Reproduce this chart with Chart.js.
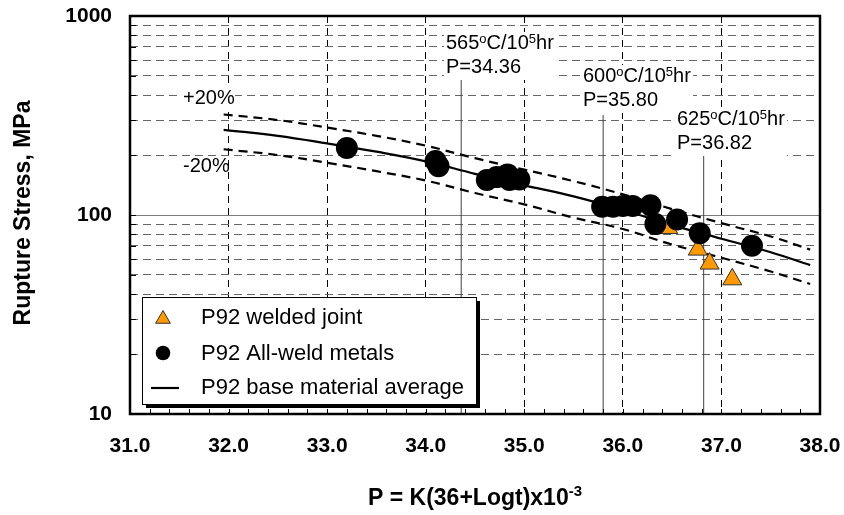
<!DOCTYPE html>
<html>
<head>
<meta charset="utf-8">
<script src="https://cdn.jsdelivr.net/npm/chart.js@4.4.0/dist/chart.umd.min.js"></script>
<style>
  html, body { margin: 0; padding: 0; background: #fff; }
  #wrap { width: 844px; height: 515px; position: relative; }
</style>
</head>
<body>
<div id="wrap"><canvas id="ruptureChart"></canvas></div>
<script>
// Larson-Miller parameter (x) and rupture stress in MPa (y)
const curveP = [31.95, 32.5, 33.0, 33.5, 34.0, 34.5, 35.0, 35.5, 36.0, 36.5, 37.0, 37.5, 37.9];
const avgStress = [268, 250, 229, 208, 186, 161, 141, 124, 106, 89, 76, 65, 56];
const upperStress = [320, 300, 275, 250, 223, 193, 169, 148, 127, 107, 91, 78, 67];
const lowerStress = [214, 200, 183, 166, 149, 129, 113, 97, 85, 71, 61, 52, 45];

const allWeldP = [33.20, 34.10, 34.13, 34.62, 34.72, 34.83, 34.85, 34.95, 35.79, 35.90, 36.00, 36.10, 36.28, 36.33, 36.55, 36.78, 37.31];
const allWeldStress = [217, 187, 176, 150, 155, 160, 150, 151, 110, 110, 111, 111, 112, 90, 95, 81, 70];

const weldedP = [36.46, 36.76, 36.88, 37.11];
const weldedStress = [86, 67, 57, 47.5];

// 10^5 hr lines at 565, 600, 625 C
const refP = [34.36, 35.80, 36.82];
const refTop = [477, 318, 198];
const refTemp = ['565', '600', '625'];

const xTicks = [31, 32, 33, 34, 35, 36, 37, 38];
const yGrid = [10, 20, 30, 40, 50, 60, 70, 80, 90, 100, 200, 300, 400, 500, 600, 700, 800, 900, 1000];
const yLabels = [10, 100, 1000];

const toPts = (xs, ys) => xs.map((x, i) => ({ x: x, y: ys[i] }));

const datasets = [
  {
    label: 'P92 All-weld metals',
    data: toPts(allWeldP, allWeldStress),
    pointStyle: 'circle',
    pointRadius: 11,
    backgroundColor: '#000',
    borderColor: '#000',
    borderWidth: 0,
    order: 0
  },
  {
    label: 'P92 welded joint',
    data: toPts(weldedP, weldedStress),
    pointStyle: 'triangle',
    pointRadius: 11,
    backgroundColor: '#ff9900',
    borderColor: '#333',
    borderWidth: 1,
    order: 1
  },
  {
    label: 'P92 base material average',
    data: toPts(curveP, avgStress),
    showLine: true, pointRadius: 0, borderColor: '#000', borderWidth: 2.2,
    tension: 0.4, order: 2
  },
  {
    label: '+20%',
    data: toPts(curveP, upperStress),
    showLine: true, pointRadius: 0, borderColor: '#000', borderWidth: 2.2,
    borderDash: [9, 6], tension: 0.4, order: 3
  },
  {
    label: '-20%',
    data: toPts(curveP, lowerStress),
    showLine: true, pointRadius: 0, borderColor: '#000', borderWidth: 2.2,
    borderDash: [9, 6], tension: 0.4, order: 4
  }
];

refP.forEach((p, i) => {
  datasets.push({
    label: 'ref' + i,
    data: [{ x: p, y: 10 }, { x: p, y: refTop[i] }],
    showLine: true, pointRadius: 0, borderColor: '#404040', borderWidth: 1, order: 5
  });
});

// text with superscripts: parts = [[text, isSup], ...]
function drawParts(ctx, x, y, parts, size, supSize, rise, weight) {
  let cx = x;
  parts.forEach(([t, sup]) => {
    ctx.font = weight + ' ' + (sup ? supSize : size) + 'px "Liberation Sans", Arial, sans-serif';
    ctx.fillText(t, cx, sup ? y - rise : y);
    cx += ctx.measureText(t).width;
  });
  return cx - x;
}

// no extra label overflow padding, so the plot box lands where layout.padding says
function noScalePadding(scale) {
  scale.paddingTop = 0;
  scale.paddingBottom = 0;
  scale.paddingLeft = 0;
  scale.paddingRight = 0;
}

const decorPlugin = {
  id: 'decor',
  beforeDatasetsDraw(chart) {
    const ctx = chart.ctx;
    ctx.save();
    ctx.textBaseline = 'alphabetic';
    ctx.textAlign = 'left';

    // temperature labels
    const labelY = [49, 82, 125];
    const labelX = [446, 583, 677];
    refP.forEach((p, i) => {
      const parts = [[refTemp[i], false], ['o', true], ['C/10', false], ['5', true], ['hr', false]];
      ctx.fillStyle = '#fff';
      ctx.fillRect(labelX[i] - 2, labelY[i] - 17, 112, 48);
      ctx.fillStyle = '#000';
      drawParts(ctx, labelX[i], labelY[i], parts, 20, 13, 6, 'normal');
      ctx.font = '20px "Liberation Sans", Arial, sans-serif';
      ctx.fillText('P=' + p.toFixed(2), labelX[i], labelY[i] + 24);
    });

    // band labels
    ctx.font = '20px "Liberation Sans", Arial, sans-serif';
    ctx.fillStyle = '#fff';
    ctx.fillRect(181, 88, 54, 20);
    ctx.fillStyle = '#000';
    ctx.fillText('+20%', 183, 104);
    ctx.fillText('-20%', 183, 172);
    ctx.restore();
  },
  afterDatasetsDraw(chart) {
    const ctx = chart.ctx;
    const a = chart.chartArea;
    const xs = chart.scales.x;
    const ys = chart.scales.y;
    ctx.save();

    // minor ticks
    ctx.strokeStyle = '#000';
    ctx.lineWidth = 1;
    ctx.beginPath();
    for (let v = 312; v < 380; v += 2) {
      const px = Math.round(xs.getPixelForValue(v / 10)) + 0.5;
      ctx.moveTo(px, a.bottom);
      ctx.lineTo(px, a.bottom - 5);
    }
    yGrid.forEach(v => {
      const py = Math.round(ys.getPixelForValue(v)) + 0.5;
      ctx.moveTo(a.left, py);
      ctx.lineTo(a.left + 6, py);
    });
    ctx.stroke();

    // frame
    ctx.lineWidth = 2.5;
    ctx.strokeRect(a.left, a.top, a.right - a.left, a.bottom - a.top);

    // legend
    const lx = 142, ly = 297, lw = 334, lh = 107;
    ctx.fillStyle = '#000';
    ctx.fillRect(lx + 4, ly + 4, lw, lh);
    ctx.fillStyle = '#fff';
    ctx.fillRect(lx, ly, lw, lh);
    ctx.lineWidth = 1;
    ctx.strokeStyle = '#000';
    ctx.strokeRect(lx + 0.5, ly + 0.5, lw, lh);

    // triangle marker
    const tr = 8.5, tx = 163, ty = 319;
    ctx.beginPath();
    ctx.moveTo(tx, ty - tr);
    ctx.lineTo(tx + tr * 0.866, ty + tr * 0.5);
    ctx.lineTo(tx - tr * 0.866, ty + tr * 0.5);
    ctx.closePath();
    ctx.fillStyle = '#ff9900';
    ctx.fill();
    ctx.strokeStyle = '#333';
    ctx.stroke();
    // circle marker
    ctx.beginPath();
    ctx.arc(163, 353, 7.3, 0, Math.PI * 2);
    ctx.fillStyle = '#000';
    ctx.fill();
    // line marker
    ctx.beginPath();
    ctx.moveTo(151, 388);
    ctx.lineTo(179, 388);
    ctx.lineWidth = 2.2;
    ctx.strokeStyle = '#000';
    ctx.stroke();

    ctx.fillStyle = '#000';
    ctx.font = '22px "Liberation Sans", Arial, sans-serif';
    ctx.textBaseline = 'alphabetic';
    ctx.textAlign = 'left';
    ctx.fillText(datasets[1].label, 201, 324);
    ctx.fillText(datasets[0].label, 201, 360);
    ctx.fillText(datasets[2].label, 201, 394);
    ctx.restore();
  },
  afterDraw(chart) {
    const ctx = chart.ctx;
    const a = chart.chartArea;
    ctx.save();
    ctx.fillStyle = '#000';
    ctx.textBaseline = 'alphabetic';

    // y title
    ctx.translate(30, 213);
    ctx.rotate(-Math.PI / 2);
    ctx.textAlign = 'center';
    ctx.font = 'bold 23px "Liberation Sans", Arial, sans-serif';
    ctx.fillText('Rupture Stress, MPa', 0, 0);
    ctx.setTransform(1, 0, 0, 1, 0, 0);

    // x title with superscript
    ctx.textAlign = 'left';
    const parts = [['P = K(36+Logt)x10', false], ['-3', true]];
    ctx.font = 'bold 23px "Liberation Sans", Arial, sans-serif';
    const w = ctx.measureText(parts[0][0]).width;
    ctx.font = 'bold 15px "Liberation Sans", Arial, sans-serif';
    const w2 = ctx.measureText(parts[1][0]).width;
    const cx = (a.left + a.right) / 2;
    drawParts(ctx, cx - (w + w2) / 2, 505, parts, 23, 15, 9, 'bold');
    ctx.restore();
  }
};

document.addEventListener('DOMContentLoaded', function() {
  const ctx = document.getElementById('ruptureChart').getContext('2d');
  new Chart(ctx, {
    type: 'scatter',
    data: { datasets: datasets },
    plugins: [decorPlugin],
    options: {
      responsive: true,
      maintainAspectRatio: false,
      animation: false,
      devicePixelRatio: 1,
      layout: { padding: { top: 16, right: 24, left: 0, bottom: 0 } },
      plugins: {
        legend: { display: false },
        tooltip: { enabled: false }
      },
      scales: {
        x: {
          type: 'linear',
          min: 31,
          max: 38,
          afterBuildTicks: (scale) => { scale.ticks = xTicks.map(v => ({ value: v })); },
          afterFit: (scale) => { scale.height = 101; noScalePadding(scale); },
          ticks: {
            autoSkip: false,
            maxRotation: 0,
            padding: 20,
            color: '#000',
            font: { family: '"Liberation Sans", Arial, sans-serif', size: 21, weight: 'bold' },
            callback: (v) => Number(v).toFixed(1)
          },
          grid: { color: '#000', lineWidth: 1, drawTicks: false },
          border: { display: false, dash: [7, 5] }
        },
        y: {
          type: 'logarithmic',
          min: 10,
          max: 1000,
          afterBuildTicks: (scale) => { scale.ticks = yGrid.map(v => ({ value: v })); },
          afterFit: (scale) => { scale.width = 130; noScalePadding(scale); },
          ticks: {
            autoSkip: false,
            padding: 18,
            color: '#000',
            font: { family: '"Liberation Sans", Arial, sans-serif', size: 21, weight: 'bold' },
            callback: (v) => yLabels.includes(v) ? String(v) : ''
          },
          grid: {
            drawTicks: false,
            lineWidth: 1,
            color: (c) => (c.tick && c.tick.value === 100) ? '#7a7a7a' : '#666'
          },
          border: {
            display: false,
            dash: (c) => (c.tick && c.tick.value === 100) ? [] : [8, 5]
          }
        }
      }
    }
  });
});
</script>
</body>
</html>
